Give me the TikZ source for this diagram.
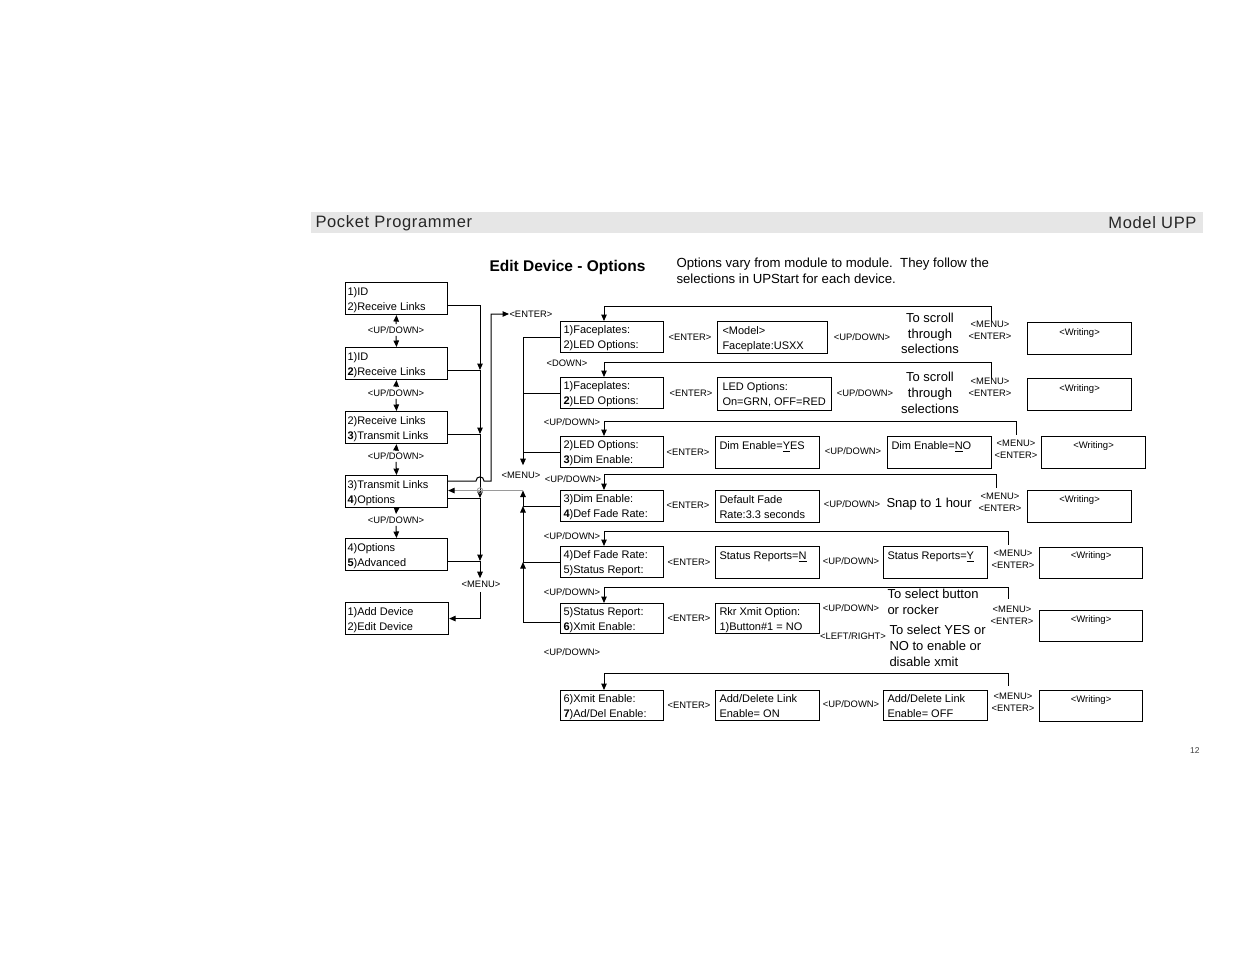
\documentclass[tikz,border=0pt]{standalone}
\usepackage{fontspec}
\setmainfont{Liberation Sans}
\usetikzlibrary{arrows.meta,calc}
\definecolor{band}{HTML}{E6E6E6}
\definecolor{hop}{HTML}{9A9A9A}
\begin{document}
\begin{tikzpicture}[x=1pt,y=-1pt, line width=1pt,
  box/.style={draw, line width=1.1pt, anchor=north west, inner sep=0pt},
  bt/.style={anchor=north west, inner sep=0pt, align=left, font=\fontsize{11}{14.5}\selectfont},
  lab/.style={inner sep=0pt, align=center, font=\fontsize{9.4}{12}\selectfont},
  wrt/.style={inner sep=0pt, font=\fontsize{9.5}{12}\selectfont},
  big/.style={inner sep=0pt, align=center, font=\fontsize{13}{15.8}\selectfont},
  arr/.style={-{Triangle[length=6.5pt,width=5.5pt]}},
]
\useasboundingbox (0,0) rectangle (1235,954);
\fill[white] (0,0) rectangle (1235,954);

% header
\fill[band] (311,212) rectangle (1203,233);
\node[anchor=west, inner sep=0pt, text=black!85, font=\fontsize{16.5}{16}\selectfont\addfontfeature{LetterSpace=4}] (hl) at (315,223) {Pocket Programmer};
\node[anchor=east, inner sep=0pt, text=black!85, font=\fontsize{16.5}{16}\selectfont\addfontfeature{LetterSpace=4}] (hr) at (1197,223) {Model UPP};
\node[anchor=base east, inner sep=0pt, text=black!75, font=\fontsize{8.5}{10}\selectfont] (pg) at (1200,753) {12};

% title
\node[anchor=base west, inner sep=0pt, font=\fontsize{15.5}{18}\selectfont\bfseries] (title) at (489,271) {Edit Device - Options};
\node[anchor=north west, inner sep=0pt, align=left, font=\fontsize{13.2}{16}\selectfont] (desc) at (676,253) {\rule{0pt}{14pt}Options vary from module to module.\ \ They follow the\\selections in UPStart for each device.};

% ---------- left column ----------
\node[box, minimum width=102pt, minimum height=32pt] (L1) at (345,282) {};
\node[box, minimum width=102pt, minimum height=32pt] (L2) at (345,347) {};
\node[box, minimum width=102pt, minimum height=32pt] (L3) at (345,411) {};
\node[box, minimum width=102pt, minimum height=32pt] (L4) at (345,475) {};
\node[box, minimum width=102pt, minimum height=32pt] (L5) at (345,538) {};
\node[box, minimum width=103pt, minimum height=32pt] (L6) at (345,602) {};
\node[bt] (L1t) at ($(L1.north west)+(2,0)$) {\rule{0pt}{13pt}1)ID\\2)Receive Links};
\node[bt] (L2t) at ($(L2.north west)+(2,0)$) {\rule{0pt}{13pt}1)ID\\{\bfseries 2})Receive Links};
\node[bt] (L3t) at ($(L3.north west)+(2,0)$) {\rule{0pt}{13pt}2)Receive Links\\{\bfseries 3})Transmit Links};
\node[bt] (L4t) at ($(L4.north west)+(2,0)$) {\rule{0pt}{13pt}3)Transmit Links\\{\bfseries 4})Options};
\node[bt] (L5t) at ($(L5.north west)+(2,0)$) {\rule{0pt}{13pt}4)Options\\{\bfseries 5})Advanced};
\node[bt] (L6t) at ($(L6.north west)+(2,0)$) {\rule{0pt}{13pt}1)Add Device\\2)Edit Device};

\node[lab] (ud1) at (396,330) {<UP/DOWN>};
\node[lab] (ud2) at (396,393) {<UP/DOWN>};
\node[lab] (ud3) at (396,456) {<UP/DOWN>};
\node[lab] (ud4) at (396,520) {<UP/DOWN>};
\draw[arr] ($(ud1.north)+(0,-2)$) -- (L1.south);
\draw[arr] ($(ud1.south)+(0,2)$) -- (L2.north);
\draw[arr] ($(ud2.north)+(0,-2)$) -- (L2.south);
\draw[arr] ($(ud2.south)+(0,2)$) -- (L3.north);
\draw[arr] ($(ud3.north)+(0,-2)$) -- (L3.south);
\draw[arr] ($(ud3.south)+(0,2)$) -- (L4.north);
\draw[arr] (L4.south) -- ($(ud4.north)+(0,-2)$);
\draw[arr] ($(ud4.south)+(0,2)$) -- (L5.north);

% left vertical bus
\coordinate (lx) at (480,0);
\coordinate (j1) at ($(L1.north east)+(0,23)$);
\coordinate (j2) at ($(L2.north east)+(0,23)$);
\coordinate (j3) at ($(L3.north east)+(0,23)$);
\coordinate (j4) at ($(L4.north east)+(0,23)$);
\coordinate (j5) at ($(L5.north east)+(0,23)$);
\node[lab] (menuL) at (481,584) {<MENU>};
\draw[arr] (j1) -| (j2 -| lx);
\draw (j2) -- (j2 -| lx);
\draw[arr] (j2 -| lx) -- (j3 -| lx);
\draw (j3) -- (j3 -| lx);
\draw[arr] (j3 -| lx) -- (j4 -| lx);
\draw (j4) -- (j4 -| lx);
\draw[arr] (j4 -| lx) -- (j5 -| lx);
\draw (j5) -- (j5 -| lx);
\draw[arr] (j5 -| lx) -- ($(menuL.north)+(-1,-2)$);
\draw[arr] ($(menuL.south)+(-1,4)$) |- (L6.east);

% ENTER branch from L4 (hops over the bus)
\node[lab, anchor=west] (entL) at (509,314) {<ENTER>};
\coordinate (e0) at ($(L4.north east)+(0,6)$);
\draw[arr] (e0) -- (e0 -| 476,0) .. controls ($(e0 -| 476,0)+(0,-5.5)$) and ($(e0 -| 484,0)+(0,-5.5)$) .. (e0 -| 484,0) -- (e0 -| 491,0) -- (491,314) -- (entL.west);

% ---------- middle column ----------
\node[box, minimum width=103pt, minimum height=31pt] (M1) at (560,321) {};
\node[box, minimum width=103pt, minimum height=31pt] (M2) at (560,377) {};
\node[box, minimum width=103pt, minimum height=31pt] (M3) at (560,436) {};
\node[box, minimum width=103pt, minimum height=31pt] (M4) at (560,490) {};
\node[box, minimum width=103pt, minimum height=31pt] (M5) at (560,546) {};
\node[box, minimum width=103pt, minimum height=30pt] (M6) at (560,603) {};
\node[box, minimum width=103pt, minimum height=30pt] (M7) at (560,690) {};
\node[bt] (M1t) at ($(M1.north west)+(3,-1)$) {\rule{0pt}{13pt}1)Faceplates:\\2)LED Options:};
\node[bt] (M2t) at ($(M2.north west)+(3,-1)$) {\rule{0pt}{13pt}1)Faceplates:\\{\bfseries 2})LED Options:};
\node[bt] (M3t) at ($(M3.north west)+(3,-1)$) {\rule{0pt}{13pt}2)LED Options:\\{\bfseries 3})Dim Enable:};
\node[bt] (M4t) at ($(M4.north west)+(3,-1)$) {\rule{0pt}{13pt}3)Dim Enable:\\{\bfseries 4})Def Fade Rate:};
\node[bt] (M5t) at ($(M5.north west)+(3,-1)$) {\rule{0pt}{13pt}4)Def Fade Rate:\\5)Status Report:};
\node[bt] (M6t) at ($(M6.north west)+(3,-1)$) {\rule{0pt}{13pt}5)Status Report:\\{\bfseries 6})Xmit Enable:};
\node[bt] (M7t) at ($(M7.north west)+(3,-1)$) {\rule{0pt}{13pt}6)Xmit Enable:\\{\bfseries 7})Ad/Del Enable:};

\node[lab] (dn) at (567,363) {<DOWN>};
\node[lab] (ud5) at (572,422) {<UP/DOWN>};
\node[lab] (ud6) at (573,479) {<UP/DOWN>};
\node[lab] (ud7) at (572,536) {<UP/DOWN>};
\node[lab] (ud8) at (572,592) {<UP/DOWN>};
\node[lab] (ud9) at (572,652) {<UP/DOWN>};
\node[lab] (menuM) at (521,475) {<MENU>};

% middle bus
\coordinate (mx) at (523,0);
\draw[arr] (M1.west) -| ($(menuM.north)+(2,-6)$);
\draw (M2.west) -- (M2.west -| mx);
\draw (M3.west) -- (M3.west -| mx);
\coordinate (k6) at ($(M6.north west)+(0,19)$);
\draw[arr] (k6) -| (M5.west -| mx);
\draw (M5.west) -- (M5.west -| mx);
\draw[arr] (M5.west -| mx) -- (M4.west -| mx);
\draw (M4.west) -- (M4.west -| mx);
\coordinate (g0) at ($(L4.east)+(0,-1)$);
\draw[arr] (M4.west -| mx) -- (g0 -| mx);
\draw[hop, -{Triangle[length=6.5pt,width=5.5pt,color=black]}] (g0 -| mx) -- (g0);
\draw[hop, line width=0.8pt] (g0 -| lx) circle[radius=2.8pt];

% ENTER labels between middle and right
\node[lab] (en1) at (690,337) {<ENTER>};
\node[lab] (en2) at (691,393) {<ENTER>};
\node[lab] (en3) at (688,452) {<ENTER>};
\node[lab] (en4) at (688,505) {<ENTER>};
\node[lab] (en5) at (689,562) {<ENTER>};
\node[lab] (en6) at (689,618) {<ENTER>};
\node[lab] (en7) at (689,705) {<ENTER>};

% ---------- right part ----------
\node[box, minimum width=110pt, minimum height=32pt] (R1) at (717,321) {};
\node[box, minimum width=114pt, minimum height=33pt] (R2) at (717,377) {};
\node[box, minimum width=104pt, minimum height=32pt] (R3) at (715,436) {};
\node[box, minimum width=104pt, minimum height=32pt] (R3b) at (887,436) {};
\node[box, minimum width=104pt, minimum height=32pt] (R4) at (715,490) {};
\node[box, minimum width=104pt, minimum height=32pt] (R5) at (715,546) {};
\node[box, minimum width=104pt, minimum height=32pt] (R5b) at (883,546) {};
\node[box, minimum width=104pt, minimum height=30pt] (R6) at (715,603) {};
\node[box, minimum width=104pt, minimum height=30pt] (R7) at (715,690) {};
\node[box, minimum width=104pt, minimum height=30pt] (R7b) at (883,690) {};
\node[bt] (R1t) at ($(R1.north west)+(5,0)$) {\rule{0pt}{13pt}<Model>\\Faceplate:USXX};
\node[bt] (R2t) at ($(R2.north west)+(5,0)$) {\rule{0pt}{13pt}LED Options:\\On=GRN, OFF=RED};
\node[bt] (R3t) at ($(R3.north west)+(4,0)$) {\rule{0pt}{13pt}Dim Enable=\underline{Y}ES};
\node[bt] (R3bt) at ($(R3b.north west)+(4,0)$) {\rule{0pt}{13pt}Dim Enable=\underline{N}O};
\node[bt] (R4t) at ($(R4.north west)+(4,0)$) {\rule{0pt}{13pt}Default Fade\\Rate:3.3 seconds};
\node[bt] (R5t) at ($(R5.north west)+(4,0)$) {\rule{0pt}{13pt}Status Reports=\underline{N}};
\node[bt] (R5bt) at ($(R5b.north west)+(4,0)$) {\rule{0pt}{13pt}Status Reports=\underline{Y}};
\node[bt] (R6t) at ($(R6.north west)+(4,-1)$) {\rule{0pt}{13pt}Rkr Xmit Option:\\1)Button\#1 = NO};
\node[bt] (R7t) at ($(R7.north west)+(4,-1)$) {\rule{0pt}{13pt}Add/Delete Link\\Enable= ON};
\node[bt] (R7bt) at ($(R7b.north west)+(4,-1)$) {\rule{0pt}{13pt}Add/Delete Link\\Enable= OFF};

% writing boxes
\node[box, minimum width=104pt, minimum height=32pt] (W1) at (1027,322) {};
\node[box, minimum width=104pt, minimum height=32pt] (W2) at (1027,378) {};
\node[box, minimum width=104pt, minimum height=32pt] (W3) at (1041,436) {};
\node[box, minimum width=104pt, minimum height=32pt] (W4) at (1027,490) {};
\node[box, minimum width=103pt, minimum height=31pt] (W5) at (1039,547) {};
\node[box, minimum width=103pt, minimum height=31pt] (W6) at (1039,610) {};
\node[box, minimum width=103pt, minimum height=31pt] (W7) at (1039,690) {};
\node[wrt] (W1t) at ($(W1.north)+(0,11)$) {<Writing>};
\node[wrt] (W2t) at ($(W2.north)+(0,11)$) {<Writing>};
\node[wrt] (W3t) at ($(W3.north)+(0,10)$) {<Writing>};
\node[wrt] (W4t) at ($(W4.north)+(0,10)$) {<Writing>};
\node[wrt] (W5t) at ($(W5.north)+(0,9)$) {<Writing>};
\node[wrt] (W6t) at ($(W6.north)+(0,10)$) {<Writing>};
\node[wrt] (W7t) at ($(W7.north)+(0,10)$) {<Writing>};

% up/down labels between right boxes
\node[lab] (u1) at (862,337) {<UP/DOWN>};
\node[lab] (u2) at (865,393) {<UP/DOWN>};
\node[lab] (u3) at (853,451) {<UP/DOWN>};
\node[lab] (u4) at (852,504) {<UP/DOWN>};
\node[lab] (u5) at (851,561) {<UP/DOWN>};
\node[lab] (u6) at (851,608) {<UP/DOWN>};
\node[lab] (lr6) at (853,636) {<LEFT/RIGHT>};
\node[lab] (u7) at (851,704) {<UP/DOWN>};

% explanatory texts
\node[big] (s1) at (930,333.5) {To scroll\\through\\selections};
\node[big] (s2) at (930,393) {To scroll\\through\\selections};
\node[big, anchor=west] (s4) at (886,504) {Snap to 1 hour};
\node[big, anchor=north west, align=left] (s6a) at (887,589) {To select button\\or rocker};
\node[big, anchor=north west, align=left] (s6b) at (889,625) {To select YES or\\NO to enable or\\disable xmit};

% MENU / ENTER labels
\node[lab] (me1) at (990,330) {<MENU>\\<ENTER>};
\node[lab] (me2) at (990,387) {<MENU>\\<ENTER>};
\node[lab] (me3) at (1016,449.5) {<MENU>\\<ENTER>};
\node[lab] (me4) at (1000,502.5) {<MENU>\\<ENTER>};
\node[lab] (me5) at (1013,559.5) {<MENU>\\<ENTER>};
\node[lab] (me6) at (1012,615.5) {<MENU>\\<ENTER>};
\node[lab] (me7) at (1013,702.5) {<MENU>\\<ENTER>};

% feedback loops to the middle column
\draw[arr] ($(me1.north)+(1,1)$) |- ($(M1.north west)+(44,-15)$) -- ($(M1.north west)+(44,0)$);
\draw[arr] ($(me2.north)+(1,1)$) |- ($(M2.north west)+(44,-15)$) -- ($(M2.north west)+(44,0)$);
\draw[arr] ($(me3.north)+(0,-5)$) |- ($(M3.north west)+(44,-15)$) -- ($(M3.north west)+(44,0)$);
\draw[arr] ($(me4.north)+(-4,-5)$) |- ($(M4.north west)+(44,-16)$) -- ($(M4.north west)+(44,0)$);
\draw[arr] ($(me5.north)+(-5,-5)$) |- ($(M5.north west)+(44,-15)$) -- ($(M5.north west)+(44,0)$);
\draw[arr] ($(me6.north)+(-4,-7)$) |- ($(M6.north west)+(44,-16)$) -- ($(M6.north west)+(44,0)$);
\draw[arr] ($(me7.north)+(-5,-7)$) |- ($(M7.north west)+(44,-17)$) -- ($(M7.north west)+(44,0)$);
\end{tikzpicture}
\end{document}
